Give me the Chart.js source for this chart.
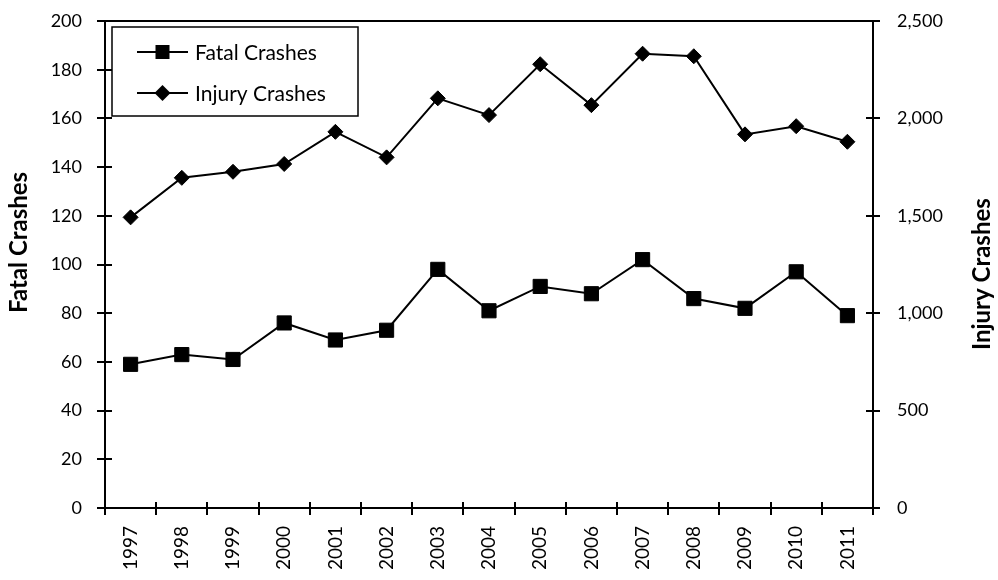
<!DOCTYPE html>
<html>
<head>
<meta charset="utf-8">
<script src="https://cdn.jsdelivr.net/npm/chart.js@4/dist/chart.umd.min.js"></script>
<style>
  html, body { margin: 0; padding: 0; background: #fff; }
  #wrap { width: 998px; height: 580px; }
</style>
</head>
<body>
<div id="wrap"><canvas id="c" width="998" height="580"></canvas></div>
<script>
// Crash counts per year
const years = ['1997','1998','1999','2000','2001','2002','2003','2004','2005','2006','2007','2008','2009','2010','2011'];
const fatalCrashes  = [59, 63, 61, 76, 69, 73, 98, 81, 91, 88, 102, 86, 82, 97, 79];
const injuryCrashes = [1492, 1695, 1726, 1766, 1931, 1800, 2103, 2017, 2278, 2068, 2332, 2319, 1918, 1960, 1880];

// Axis tick values
const fatalTicks  = [0, 20, 40, 60, 80, 100, 120, 140, 160, 180, 200];
const injuryTicks = [0, 500, 1000, 1500, 2000, 2500];

const FONT = 'Lato, "Open Sans", "DejaVu Sans", sans-serif';
const INK = '#000';

// Tick marks that cross the axis lines, the top frame line, axis titles and the legend
const axisDecor = {
  id: 'axisDecor',
  afterDraw(chart) {
    const { ctx, chartArea: a, scales } = chart;
    const len = 7;
    ctx.save();
    ctx.strokeStyle = INK;
    ctx.lineWidth = 2;
    ctx.beginPath();
    ctx.moveTo(a.left - 1, a.top);
    ctx.lineTo(a.right + 1, a.top);
    fatalTicks.forEach(v => {
      const y = Math.round(scales.yFatal.getPixelForValue(v));
      ctx.moveTo(a.left - len - 1, y); ctx.lineTo(a.left + len, y);
    });
    injuryTicks.forEach(v => {
      const y = Math.round(scales.yInjury.getPixelForValue(v));
      ctx.moveTo(a.right - len, y); ctx.lineTo(a.right + len, y);
    });
    const xs = scales.x;
    const step = xs.getPixelForValue(1) - xs.getPixelForValue(0);
    for (let i = 0; i <= years.length; i++) {
      const x = Math.round(xs.getPixelForValue(0) - step / 2 + i * step);
      ctx.moveTo(x, a.bottom - len + 1); ctx.lineTo(x, a.bottom + len);
    }
    ctx.stroke();

    // axis titles, both reading bottom-to-top
    ctx.fillStyle = INK;
    ctx.font = 'bold 24px ' + FONT;
    ctx.textAlign = 'left';
    ctx.textBaseline = 'middle';
    ctx.save();
    ctx.translate(19, 313);
    ctx.rotate(-Math.PI / 2);
    ctx.fillText('Fatal Crashes', 0, 0);
    ctx.restore();
    ctx.save();
    ctx.translate(982, 350);
    ctx.rotate(-Math.PI / 2);
    ctx.fillText('Injury Crashes', 0, 0);
    ctx.restore();

    // legend box
    const bx = 112, by = 27, bw = 246, bh = 89;
    ctx.lineWidth = 1.5;
    ctx.strokeRect(bx, by, bw, bh);
    const rows = [
      { label: chart.data.datasets[0].label, y: 52, style: 'rect' },
      { label: chart.data.datasets[1].label, y: 93, style: 'diamond' }
    ];
    rows.forEach(r => {
      ctx.lineWidth = 2;
      ctx.beginPath();
      ctx.moveTo(137, r.y); ctx.lineTo(188, r.y);
      ctx.stroke();
      const cx = 162.5;
      ctx.beginPath();
      if (r.style === 'rect') {
        ctx.rect(cx - 7, r.y - 7, 14, 14);
      } else {
        ctx.moveTo(cx - 8, r.y); ctx.lineTo(cx, r.y - 8);
        ctx.lineTo(cx + 8, r.y); ctx.lineTo(cx, r.y + 8);
        ctx.closePath();
      }
      ctx.fill();
      ctx.font = '21px ' + FONT;
      ctx.textAlign = 'left';
      ctx.textBaseline = 'middle';
      ctx.fillText(r.label, 195, r.y + 1);
    });
    ctx.restore();
  }
};

// keep the plot area's top edge fixed by the layout padding alone
function fixVerticalScale(width) {
  return s => { s.width = width; s.paddingTop = 0; s.paddingBottom = 0; };
}

new Chart(document.getElementById('c'), {
  type: 'line',
  data: {
    labels: years,
    datasets: [
      {
        label: 'Fatal Crashes',
        data: fatalCrashes,
        yAxisID: 'yFatal',
        borderColor: INK,
        backgroundColor: INK,
        borderWidth: 2,
        pointStyle: 'rect',
        pointRadius: 10,
        pointBorderWidth: 1,
        pointBackgroundColor: INK,
        pointBorderColor: INK,
        tension: 0
      },
      {
        label: 'Injury Crashes',
        data: injuryCrashes,
        yAxisID: 'yInjury',
        borderColor: INK,
        backgroundColor: INK,
        borderWidth: 2,
        pointStyle: 'rectRot',
        pointRadius: 7.5,
        pointBorderWidth: 1,
        pointBackgroundColor: INK,
        pointBorderColor: INK,
        tension: 0
      }
    ]
  },
  options: {
    responsive: false,
    devicePixelRatio: 1,
    animation: false,
    layout: { padding: { top: 21, left: 0, right: 0, bottom: 0 } },
    plugins: {
      legend: { display: false },
      tooltip: { enabled: false },
      title: { display: false }
    },
    scales: {
      x: {
        type: 'category',
        offset: true,
        grid: { display: true, drawOnChartArea: false, drawTicks: false, offset: true, color: 'transparent' },
        border: { display: true, color: INK, width: 2 },
        ticks: {
          color: INK,
          font: { family: FONT, size: 19 },
          padding: 18,
          minRotation: 90,
          maxRotation: 90,
          autoSkip: false
        },
        afterFit(s) { s.height = 72; s.paddingLeft = 0; s.paddingRight = 0; }
      },
      yFatal: {
        type: 'linear',
        position: 'left',
        min: 0,
        max: 200,
        afterBuildTicks(s) { s.ticks = fatalTicks.map(v => ({ value: v })); },
        grid: { display: true, drawOnChartArea: false, drawTicks: false, color: 'transparent' },
        border: { display: true, color: INK, width: 2 },
        ticks: {
          color: INK,
          font: { family: FONT, size: 18 },
          padding: 23
        },
        afterFit: fixVerticalScale(105)
      },
      yInjury: {
        type: 'linear',
        position: 'right',
        min: 0,
        max: 2500,
        afterBuildTicks(s) { s.ticks = injuryTicks.map(v => ({ value: v })); },
        grid: { display: true, drawOnChartArea: false, drawTicks: false, color: 'transparent' },
        border: { display: true, color: INK, width: 2 },
        ticks: {
          color: INK,
          font: { family: FONT, size: 18 },
          padding: 24,
          callback: v => v.toLocaleString('en-US')
        },
        afterFit: fixVerticalScale(125)
      }
    }
  },
  plugins: [axisDecor]
});
</script>
</body>
</html>
